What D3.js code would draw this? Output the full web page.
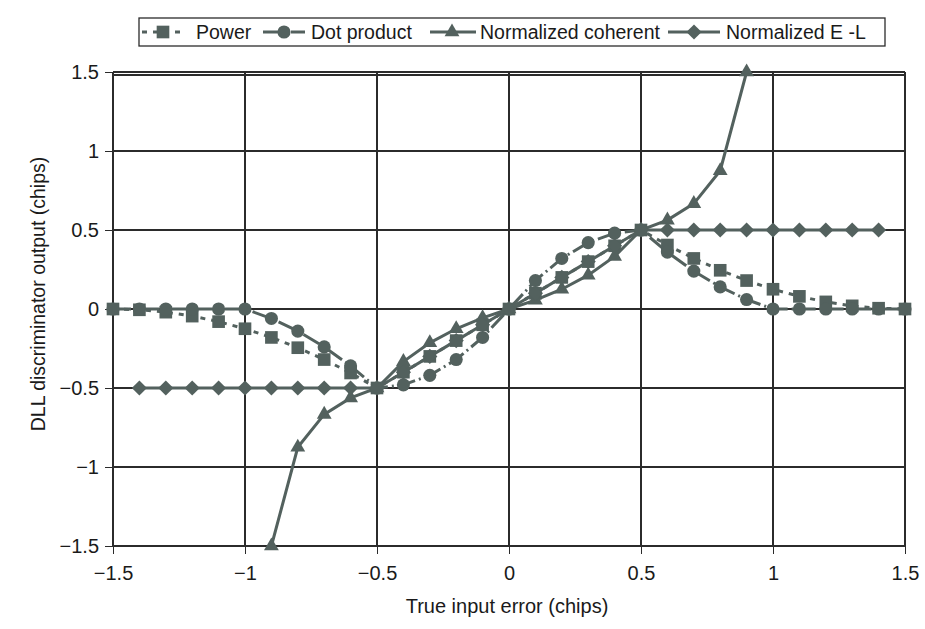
<!DOCTYPE html>
<html lang="en">
  <head>
    <meta charset="UTF-8" />
    <title>DLL discriminators</title>
    <style>
      body { margin: 0; background: #fff; }
      svg text { font-family: "Liberation Sans", Arial, sans-serif; fill: #1a1a1a; }
      .axis path, .axis line { stroke: #2b2b2b; stroke-width: 1.3; shape-rendering: crispEdges; }
      .grid line { stroke: #2b2b2b; stroke-width: 1.3; shape-rendering: crispEdges; }
    </style>
  </head>
  <body>
    <div id="app"></div>
    <script src="https://cdn.jsdelivr.net/npm/d3@7"></script>
    <script>
      // x values (chips)
      const xFull = [-1.5, -1.4, -1.3, -1.2, -1.1, -1.0, -0.9, -0.8, -0.7, -0.6, -0.5, -0.4, -0.3, -0.2, -0.1,
        0, 0.1, 0.2, 0.3, 0.4, 0.5, 0.6, 0.7, 0.8, 0.9, 1.0, 1.1, 1.2, 1.3, 1.4, 1.5];
      const xCoherent = [-0.9, -0.8, -0.7, -0.6, -0.5, -0.4, -0.3, -0.2, -0.1, 0, 0.1, 0.2, 0.3, 0.4, 0.5, 0.6, 0.7, 0.8, 0.9];
      const xNormEL = [-1.4, -1.3, -1.2, -1.1, -1.0, -0.9, -0.8, -0.7, -0.6, -0.5, -0.4, -0.3, -0.2, -0.1,
        0, 0.1, 0.2, 0.3, 0.4, 0.5, 0.6, 0.7, 0.8, 0.9, 1.0, 1.1, 1.2, 1.3, 1.4];

      // discriminator outputs (chips)
      const power = [0, -0.005, -0.02, -0.045, -0.08, -0.125, -0.18, -0.245, -0.32, -0.405, -0.5, -0.4, -0.3, -0.2, -0.1,
        0, 0.1, 0.2, 0.3, 0.4, 0.5, 0.405, 0.32, 0.245, 0.18, 0.125, 0.08, 0.045, 0.02, 0.005, 0];
      const dotProduct = [0, 0, 0, 0, 0, 0, -0.06, -0.14, -0.24, -0.36, -0.5, -0.48, -0.42, -0.32, -0.18,
        0, 0.18, 0.32, 0.42, 0.48, 0.5, 0.36, 0.24, 0.14, 0.06, 0, 0, 0, 0, 0, 0];
      const normCoherent = [-1.5, -0.875, -0.667, -0.5625, -0.5, -0.333, -0.214, -0.125, -0.056,
        0, 0.056, 0.125, 0.214, 0.333, 0.5, 0.5625, 0.667, 0.875, 1.5];
      const normEL = [-0.5, -0.5, -0.5, -0.5, -0.5, -0.5, -0.5, -0.5, -0.5, -0.5, -0.4, -0.3, -0.2, -0.1,
        0, 0.1, 0.2, 0.3, 0.4, 0.5, 0.5, 0.5, 0.5, 0.5, 0.5, 0.5, 0.5, 0.5, 0.5];

      const seriesNames = ["Power", "Dot product", "Normalized coherent", "Normalized E -L"];
      const tickValues = [-1.5, -1, -0.5, 0, 0.5, 1, 1.5];
      const tickLabels = ["\u22121.5", "\u22121", "\u22120.5", "0", "0.5", "1", "1.5"];

      const width = 925, height = 629;
      const pLeft = 113, pRight = 905, pTop = 72, pBottom = 546;
      const ink = "#53615e";
      const font = "Liberation Sans, Arial, sans-serif";

      const x = d3.scaleLinear().domain([-1.5, 1.5]).range([pLeft, pRight]);
      const y = d3.scaleLinear().domain([-1.5, 1.5]).range([pBottom, pTop]);

      const svg = d3.select("#app").append("svg")
        .attr("width", width).attr("height", height);

      // grid
      const grid = svg.append("g").attr("class", "grid");
      grid.selectAll(".v").data(tickValues).enter().append("line")
        .attr("x1", d => Math.round(x(d))).attr("x2", d => Math.round(x(d)))
        .attr("y1", pTop).attr("y2", pBottom);
      grid.selectAll(".h").data(tickValues).enter().append("line")
        .attr("x1", pLeft).attr("x2", pRight)
        .attr("y1", d => Math.round(y(d))).attr("y2", d => Math.round(y(d)));
      grid.append("line").attr("x1", pLeft).attr("x2", pRight).attr("y1", pTop + 3).attr("y2", pTop + 3);

      // axes
      const fmt = (d, i) => tickLabels[i];
      const xAxis = svg.append("g").attr("class", "axis")
        .attr("transform", `translate(0,${pBottom})`)
        .call(d3.axisBottom(x).tickValues(tickValues).tickFormat(fmt).tickSize(8).tickSizeOuter(0).tickPadding(12));
      xAxis.selectAll("text").attr("font-size", 20).style("font-family", font);
      const yAxis = svg.append("g").attr("class", "axis")
        .attr("transform", `translate(${pLeft},0)`)
        .call(d3.axisLeft(y).tickValues(tickValues).tickFormat(fmt).tickSize(8).tickSizeOuter(0).tickPadding(6));
      yAxis.selectAll("text").attr("font-size", 20).style("font-family", font);
      yAxis.selectAll(".tick line").attr("x2", -8).attr("x1", 2);
      svg.selectAll(".axis .domain").attr("stroke", "#2b2b2b");

      svg.append("text").attr("x", (pLeft + pRight) / 2 - 2).attr("y", 613)
        .attr("text-anchor", "middle").attr("font-size", 20).text("True input error (chips)");
      svg.append("text").attr("transform", `translate(45,${(pTop + pBottom) / 2 - 15}) rotate(-90)`)
        .attr("text-anchor", "middle").attr("font-size", 19.5).text("DLL discriminator output (chips)");

      // series
      const diamond = {
        draw(ctx, size) {
          const r = Math.sqrt(size / 2);
          ctx.moveTo(0, -r); ctx.lineTo(r, 0); ctx.lineTo(0, r); ctx.lineTo(-r, 0); ctx.closePath();
        }
      };
      const series = [
        { name: seriesNames[0], xs: xFull, ys: power, dash: "5,6", sym: d3.symbolSquare, size: 160 },
        { name: seriesNames[1], xs: xFull, ys: dotProduct, dash: "18,4,2,4", sym: d3.symbolCircle, size: 135 },
        { name: seriesNames[2], xs: xCoherent, ys: normCoherent, dash: null, sym: d3.symbolTriangle, size: 95 },
        { name: seriesNames[3], xs: xNormEL, ys: normEL, dash: null, sym: diamond, size: 115 }
      ];

      const line = d3.line().x(d => x(d[0])).y(d => y(d[1]));

      series.forEach(s => {
        const pts = s.xs.map((v, i) => [v, s.ys[i]]);
        const g = svg.append("g");
        g.append("path").datum(pts).attr("d", line)
          .attr("fill", "none").attr("stroke", ink).attr("stroke-width", 3)
          .attr("stroke-dasharray", s.dash);
        g.selectAll("path.m").data(pts).enter().append("path").attr("class", "m")
          .attr("transform", d => `translate(${x(d[0])},${y(d[1])})`)
          .attr("d", d3.symbol(s.sym, s.size)).attr("fill", ink);
      });

      // legend
      const lg = svg.append("g");
      lg.append("rect").attr("x", 139).attr("y", 18).attr("width", 746).attr("height", 28)
        .attr("fill", "#fff").attr("stroke", "#2b2b2b").attr("stroke-width", 1.3);
      const legendPos = [
        { x1: 142, x2: 182, mx: 163, tx: 196 },
        { x1: 263, x2: 305, mx: 284, tx: 311 },
        { x1: 430, x2: 476, mx: 452, tx: 480 },
        { x1: 668, x2: 720, mx: 694, tx: 726 }
      ];
      series.forEach((s, i) => {
        const p = legendPos[i];
        lg.append("line").attr("x1", p.x1).attr("x2", p.x2).attr("y1", 32).attr("y2", 32)
          .attr("stroke", ink).attr("stroke-width", 3).attr("stroke-dasharray", s.dash);
        lg.append("path").attr("transform", `translate(${p.mx},32)`)
          .attr("d", d3.symbol(s.sym, s.size)).attr("fill", ink);
        lg.append("text").attr("x", p.tx).attr("y", 39).attr("font-size", 19.5).text(s.name);
      });
    </script>
  </body>
</html>
